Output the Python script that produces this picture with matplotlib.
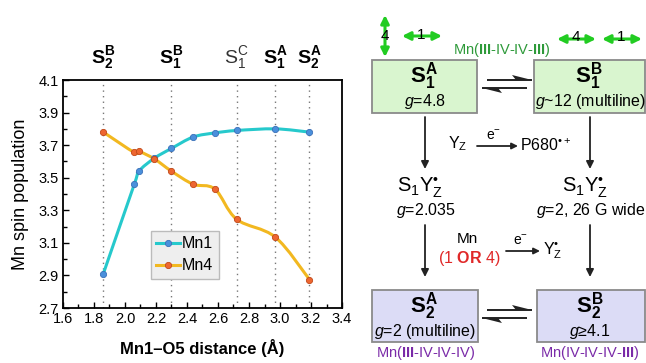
import matplotlib
matplotlib.use("Agg")
import matplotlib.pyplot as plt
import numpy as np
from matplotlib.path import Path
from matplotlib.patches import PathPatch, Rectangle, FancyArrowPatch, Polygon
from matplotlib.lines import Line2D
from matplotlib.ticker import MultipleLocator
import matplotlib.transforms as mtransforms

plt.rcParams['font.family'] = ['Liberation Sans', 'DejaVu Sans']
plt.rcParams['mathtext.fontset'] = 'custom'
plt.rcParams['mathtext.rm'] = 'Liberation Sans'
plt.rcParams['mathtext.it'] = 'Liberation Sans:italic'
plt.rcParams['mathtext.bf'] = 'Liberation Sans:bold'

# ---------------- data ----------------
distance = [1.86, 2.06, 2.09, 2.19, 2.30, 2.44, 2.58, 2.72, 2.97, 3.19]
mn1 = [2.91, 3.46, 3.54, 3.62, 3.68, 3.75, 3.775, 3.79, 3.80, 3.78]
mn4 = [3.78, 3.655, 3.662, 3.615, 3.54, 3.46, 3.43, 3.245, 3.135, 2.875]
state_x = [1.86, 2.30, 2.72, 2.97, 3.19]
state_labels = [r'$\mathbf{S_2^B}$', r'$\mathbf{S_1^B}$', r'$\mathrm{S_1^C}$',
                r'$\mathbf{S_1^A}$', r'$\mathbf{S_2^A}$']
state_colors = ['black', 'black', '#333333', 'black', 'black']
x_ticks = [1.6, 1.8, 2.0, 2.2, 2.4, 2.6, 2.8, 3.0, 3.2, 3.4]
y_ticks = [2.7, 2.9, 3.1, 3.3, 3.5, 3.7, 3.9, 4.1]

W, H = 646, 363
fig = plt.figure(figsize=(W / 100, H / 100), dpi=100)

# axes placement in pixels
x0, x1, ytop, ybot = 63, 342, 80, 308
ax = fig.add_axes([x0 / W, (H - ybot) / H, (x1 - x0) / W, (ybot - ytop) / H])
ax.set_xlim(1.6, 3.4)
ax.set_ylim(2.7, 4.1)
ax.set_xticks(x_ticks)
ax.set_xticklabels([f'{v:.1f}' for v in x_ticks])
ax.set_yticks(y_ticks)
ax.set_yticklabels([f'{v:.1f}' for v in y_ticks])
ax.xaxis.set_minor_locator(MultipleLocator(0.1))
ax.yaxis.set_minor_locator(MultipleLocator(0.1))
ax.tick_params(which='both', direction='in', top=False, right=False,
               labelsize=10.5, colors='black', pad=3)
ax.tick_params(which='major', length=4, width=1)
ax.tick_params(which='minor', length=3, width=1)
for s in ax.spines.values():
    s.set_linewidth(1.3)

for xv in state_x:
    ax.axvline(xv, color='#777777', lw=1.0, ls=(0, (1, 3)), zorder=1)


def smooth_path(xs, ys):
    pts = np.column_stack([xs, ys])
    n = len(pts)
    verts = [pts[0]]
    codes = [Path.MOVETO]
    for i in range(n - 1):
        p0 = pts[i - 1] if i > 0 else pts[i]
        p1 = pts[i]
        p2 = pts[i + 1]
        p3 = pts[i + 2] if i + 2 < n else pts[i + 1]
        c1 = p1 + (p2 - p0) / 6.0
        c2 = p2 - (p3 - p1) / 6.0
        verts += [c1, c2, p2]
        codes += [Path.CURVE4] * 3
    return Path(verts, codes)


c1_line, c1_mark, c1_edge = '#26c9cc', '#4a90dc', '#3a70b8'
c4_line, c4_mark, c4_edge = '#f2b820', '#ee6630', '#c04818'

ax.add_patch(PathPatch(smooth_path(distance, mn1), fill=False, edgecolor=c1_line, lw=2.2, zorder=2))
ax.add_patch(PathPatch(smooth_path(distance, mn4), fill=False, edgecolor=c4_line, lw=2.2, zorder=2))
ax.plot(distance, mn1, 'o', ms=4.5, mfc=c1_mark, mec=c1_edge, mew=0.6, zorder=3)
ax.plot(distance, mn4, 'o', ms=4.5, mfc=c4_mark, mec=c4_edge, mew=0.6, zorder=3)

handles = [Line2D([], [], color=c1_line, lw=2.2, marker='o', ms=4.5, mfc=c1_mark, mec=c1_edge, mew=0.6),
           Line2D([], [], color=c4_line, lw=2.2, marker='o', ms=4.5, mfc=c4_mark, mec=c4_edge, mew=0.6)]
leg = ax.legend(handles, ['Mn1', 'Mn4'], loc='lower left', bbox_to_anchor=(0.315, 0.127),
                borderaxespad=0, fontsize=11.5, frameon=True, fancybox=False,
                facecolor='#eeeeee', edgecolor='#bbbbbb', framealpha=1,
                handlelength=1.5, handletextpad=0.1, borderpad=0.35, labelspacing=0.45)
leg.get_frame().set_linewidth(1.0)

ax.set_ylabel('Mn spin population', fontsize=13, labelpad=7)
ax.set_xlabel('Mn1\u2013O5 distance (\u00c5)', fontsize=12, fontweight='bold', labelpad=9)

trans = mtransforms.blended_transform_factory(ax.transData, ax.transAxes)
for xv, lab, col in zip(state_x, state_labels, state_colors):
    ax.text(xv, 1.075, lab, transform=trans, ha='center', va='baseline',
            fontsize=14, color=col)

# ---------------- right-hand scheme (pixel coordinates) ----------------
ov = fig.add_axes([0, 0, 1, 1], zorder=5)
ov.set_xlim(0, W)
ov.set_ylim(H, 0)
ov.axis('off')
ov.patch.set_alpha(0)

green_fill, blue_fill, box_edge = '#d9f5cf', '#dcdcf6', '#8a8a8a'
for (bx, by, bw, bh, fc) in [(372, 60, 105, 53, green_fill), (534, 60, 111, 53, green_fill),
                             (372, 290, 106, 52, blue_fill), (537, 290, 108, 52, blue_fill)]:
    ov.add_patch(Rectangle((bx, by), bw, bh, facecolor=fc, edgecolor=box_edge, lw=1.3))

ov.text(424, 82, r'$\mathbf{S_1^A}$', ha='center', va='baseline', fontsize=16)
ov.text(425, 106, r'$g$=4.8', ha='center', va='baseline', fontsize=11.5)
ov.text(589, 82, r'$\mathbf{S_1^B}$', ha='center', va='baseline', fontsize=16)
ov.text(590, 106, r'$g$~12 (multiline)', ha='center', va='baseline', fontsize=11.5)

ov.text(424, 312, r'$\mathbf{S_2^A}$', ha='center', va='baseline', fontsize=16)
ov.text(425, 336, r'$g$=2 (multiline)', ha='center', va='baseline', fontsize=11.5)
ov.text(590, 312, r'$\mathbf{S_2^B}$', ha='center', va='baseline', fontsize=16)
ov.text(590, 336, r'$g$≥4.1', ha='center', va='baseline', fontsize=11.5)

green_txt = '#2e9a3a'
ov.text(502, 54, r'Mn($\mathbf{III}$-IV-IV-$\mathbf{III}$)', ha='center', va='baseline',
        fontsize=10.5, color=green_txt)
purple = '#7a2aa8'
ov.text(426, 357, r'Mn($\mathbf{III}$-IV-IV-IV)', ha='center', va='baseline', fontsize=10.5, color=purple)
ov.text(590, 357, r'Mn(IV-IV-IV-$\mathbf{III}$)', ha='center', va='baseline', fontsize=10.5, color=purple)

radical = 'S$_1$Y$_\\mathrm{Z}^{\u2022}$'
ov.text(420, 192, radical, ha='center', va='baseline', fontsize=14.5)
ov.text(426, 215, r'$g$=2.035', ha='center', va='baseline', fontsize=11.5)
ov.text(585, 192, radical, ha='center', va='baseline', fontsize=14.5)
ov.text(591, 215, r'$g$=2, 26 G wide', ha='center', va='baseline', fontsize=11.5)


def arrow(p, q, color='#222222', lw=1.3, style='-|>', ms=11):
    ov.add_patch(FancyArrowPatch(p, q, arrowstyle=style, mutation_scale=ms, color=color,
                                 lw=lw, shrinkA=0, shrinkB=0))


# vertical arrows
for xv in (425, 590):
    arrow((xv, 117), (xv, 169))
    arrow((xv, 225), (xv, 277))

# Yz -> P680
ov.text(458, 148, r'Y$_\mathrm{Z}$', ha='center', va='baseline', fontsize=11.5)
arrow((477, 146), (518, 146), ms=9)
ov.text(494, 140, r'e$^{-}$', ha='center', va='baseline', fontsize=10)
ov.text(520, 146, 'P680$^{\u2022+}$', ha='left', va='center', fontsize=11.5)

# Mn (1 OR 4) -> Yz
ov.text(467, 243, 'Mn', ha='center', va='baseline', fontsize=11)
ov.text(469, 263, r'(1 $\mathbf{OR}$ 4)', ha='center', va='baseline', fontsize=11.5, color='#e02828')
arrow((506, 251), (540, 251), ms=9)
ov.text(521, 245, r'e$^{-}$', ha='center', va='baseline', fontsize=10)
ov.text(543, 251, 'Y$_\\mathrm{Z}^{\u2022}$', ha='left', va='center', fontsize=11.5)


def equilibrium(yc):
    yt, yb = yc - 4, yc + 4
    ov.plot([487, 532], [yt, yt], color='#222222', lw=1.4, solid_capstyle='butt')
    ov.add_patch(Polygon([[532, yt], [512, yt - 5], [516, yt]], closed=True, color='#222222', lw=0))
    ov.plot([482, 527], [yb, yb], color='#222222', lw=1.4, solid_capstyle='butt')
    ov.add_patch(Polygon([[482, yb], [502, yb + 5], [498, yb]], closed=True, color='#222222', lw=0))


equilibrium(84)
equilibrium(314)

# green double arrows
gcol = '#22cc22'
arrow((385, 15), (385, 57), color=gcol, lw=2.2, style='<|-|>', ms=12)
ov.text(385, 36, '4', ha='center', va='center', fontsize=11)
arrow((402, 36), (442, 36), color=gcol, lw=2.2, style='<|-|>', ms=12)
ov.text(421, 35, '1', ha='center', va='center', fontsize=11)
arrow((557, 39), (596, 39), color=gcol, lw=2.2, style='<|-|>', ms=12)
ov.text(576, 37, '4', ha='center', va='center', fontsize=11)
arrow((602, 39), (642, 39), color=gcol, lw=2.2, style='<|-|>', ms=12)
ov.text(621, 37, '1', ha='center', va='center', fontsize=11)

fig.savefig('out.png', dpi=100)
